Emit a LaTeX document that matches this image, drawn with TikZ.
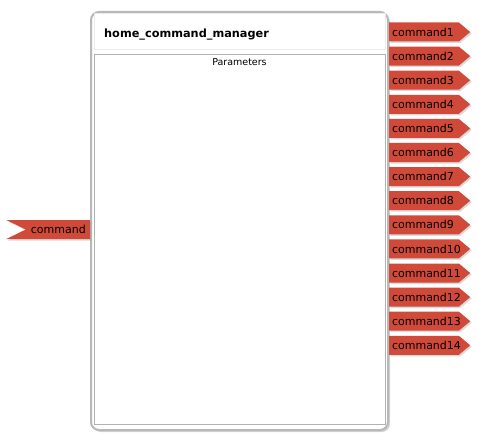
\documentclass[tikz,border=0pt]{standalone}
\usepackage{fontspec}
\setmainfont{DejaVu Sans}
\usetikzlibrary{shapes.symbols, shadows, positioning}
\definecolor{portred}{RGB}{209,73,56}
\definecolor{framegray}{RGB}{184,184,184}
\tikzstyle{block} = [rectangle, rounded corners=8pt, draw=framegray, line width=2pt, fill=white, minimum width=297pt, minimum height=418pt, drop shadow={shadow xshift=2pt, shadow yshift=-2pt, opacity=0.35}]
\tikzstyle{titlebar} = [rectangle, draw=gray!15, fill=white, minimum width=291pt, minimum height=36pt]
\tikzstyle{params} = [rectangle, draw=gray!60, minimum width=291pt, minimum height=370pt]
\tikzstyle{port} = [signal, signal to=east, signal pointer angle=80, fill=portred, text=black, minimum height=19pt, minimum width=81pt, text width=64pt, inner xsep=1.5pt, inner ysep=0pt, align=left, font=\fontsize{11}{12}\selectfont, drop shadow={shadow xshift=1.5pt, shadow yshift=-1.5pt, opacity=0.3}]
\tikzstyle{inport} = [signal, signal to=nowhere, signal from=west, signal pointer angle=52, fill=portred, text=black, minimum height=19pt, minimum width=80pt, text width=56pt, inner xsep=4pt, inner ysep=0pt, align=right, font=\fontsize{11}{12}\selectfont, drop shadow={shadow xshift=1.5pt, shadow yshift=-1.5pt, opacity=0.3}]

\begin{document}
\begin{tikzpicture}[x=1pt, y=-1pt]
  \useasboundingbox (0,0) rectangle (479,441);
  \node (mgr) [block] at (239.5,221) {};
  \node (title) [titlebar, below=2pt of mgr.north] {};
  \node (titletext) [anchor=west, inner sep=0pt, font=\fontsize{11.3}{13}\selectfont\bfseries] at (104,34.5) {home\_command\_manager};
  \node (params) [params, below=5pt of title] {};
  \node (paramtext) [below=1pt of params.north, font=\fontsize{9.5}{11}\selectfont] {Parameters};
  %input
  \node (in) [inport, left=0pt of mgr.west, yshift=-8.5pt] {command};
  %outputs
  \node (out1) [port, anchor=west] at (389,32) {command1};
  \foreach \i [remember=\i as \j (initially 1)] in {2,...,14}
    \node (out\i) [port, below=4.7pt of out\j] {command\i};
\end{tikzpicture}
\end{document}
